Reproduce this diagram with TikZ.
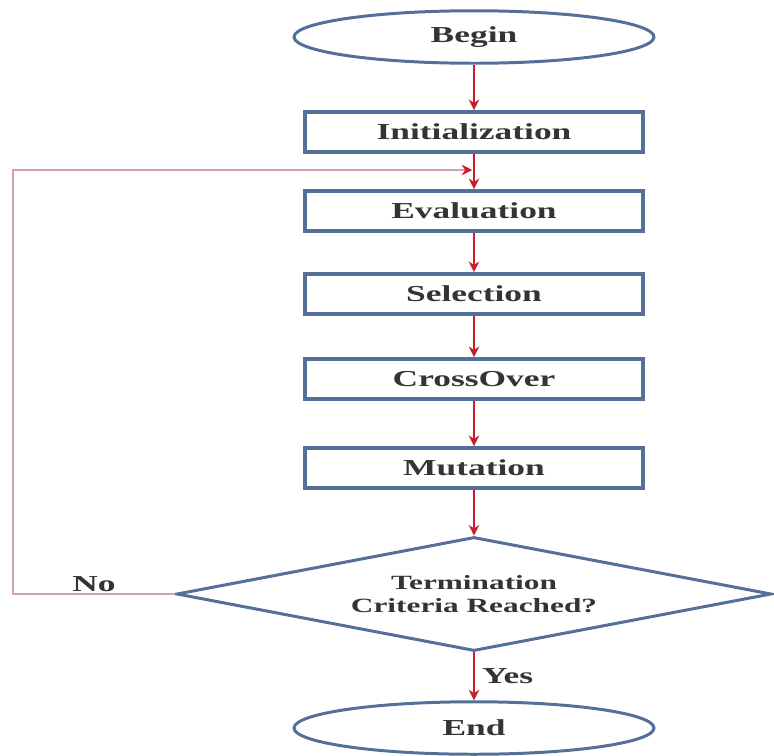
\documentclass[tikz,border=0pt]{standalone}
\usepackage{fontspec}
\setmainfont{Liberation Serif}
\newfontfamily\flowfont[FakeStretch=1.55]{Liberation Serif}
\usepackage{tikz}
\usetikzlibrary{arrows.meta, positioning, shapes, calc}
\definecolor{boxblue}{RGB}{84,112,152}
\definecolor{flowred}{RGB}{200,30,44}
\definecolor{looppink}{RGB}{214,160,172}
\definecolor{textgray}{RGB}{52,52,52}
\tikzstyle{block} = [rectangle, draw=boxblue, line width=2.2pt, fill=white, minimum width=6.76cm, minimum height=0.8cm, inner sep=0pt, text=textgray, font=\flowfont\bfseries\fontsize{13}{15}\selectfont]
\tikzstyle{terminal} = [ellipse, draw=boxblue, line width=1.7pt, fill=white, minimum width=7.2cm, minimum height=1.05cm, inner sep=0pt, text=textgray, font=\flowfont\bfseries\fontsize{13}{15}\selectfont]
\tikzstyle{decision} = [diamond, draw=boxblue, line width=1.7pt, fill=white, minimum width=11.9cm, minimum height=2.28cm, inner sep=0pt, aspect=5.2, align=center, text=textgray, font=\flowfont\bfseries\fontsize{11.5}{13}\selectfont]
\tikzstyle{answer} = [text=textgray, font=\flowfont\bfseries\fontsize{13}{15}\selectfont]
\tikzstyle{arrow} = [-{Stealth[length=6pt, width=6pt]}, draw=flowred, line width=1.1pt]
\tikzstyle{loop} = [-{Stealth[length=6pt, width=6pt, color=flowred]}, draw=looppink, line width=0.9pt, shorten >=1pt]

\begin{document}
\begin{tikzpicture}[x=0.02cm, y=-0.02cm]
            \useasboundingbox (0,0) rectangle (774,755);
            % The states
            \node[terminal] (begin) at (474,37) {Begin};
            \node[block] (init) at (474,132) {Initialization};
            \node[block] (eval) at (474,211) {Evaluation};
            \node[block] (select) at (474,294) {Selection};
            \node[block] (cross) at (474,379) {CrossOver};
            \node[block] (mutate) at (474,468) {Mutation};
            \node[decision] (check) at (474,594)
                {Termination\\
                    Criteria Reached?};
            \node[terminal] (finish) at (474,728) {End};

            % The loop back
            \coordinate (loop_corner) at (13,594);
            \coordinate (loop_top) at (13,170);
            \coordinate (loop_end) at (474,170);

            % The transitions
            \draw[arrow] (begin) -- (init);
            \draw[arrow] (init) -- (eval);
            \draw[arrow] (eval) -- (select);
            \draw[arrow] (select) -- (cross);
            \draw[arrow] (cross) -- (mutate);
            \draw[arrow] (mutate) -- (check);
            \draw[arrow] (check) -- node [answer, anchor=west, inner sep=4pt]
                {Yes}
                (finish);
            \draw[loop] (check.west) -- node [answer, anchor=south, inner sep=1pt]
                {No}
                (loop_corner) -- (loop_top) -- (loop_end);
        \end{tikzpicture}
\end{document}
